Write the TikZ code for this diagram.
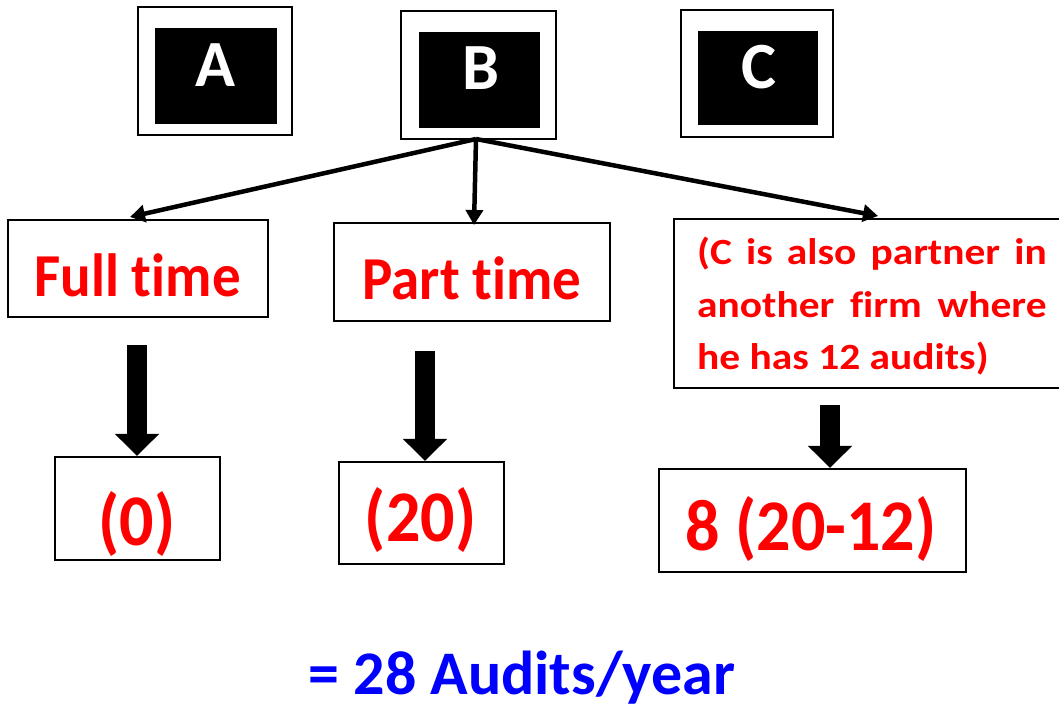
\documentclass[tikz,border=0pt]{standalone}
\usepackage{graphicx}
\usepackage{fontspec}
\setmainfont{Carlito}[Ligatures=NoCommon]
\usetikzlibrary{arrows.meta}
\definecolor{tred}{RGB}{255,0,0}
\definecolor{tblue}{RGB}{0,0,255}
\newcommand{\fsz}[1]{\fontsize{#1}{#1}\selectfont\bfseries}
\newcommand{\tall}[1]{\scalebox{1}[1.07]{#1}}
\tikzset{
  outerbox/.style={draw=black, line width=2.5pt, fill=white, inner sep=0pt},
  innerbox/.style={fill=black, inner sep=0pt},
  letter/.style={inner sep=0pt, anchor=base, text=white, font=\fsz{66}},
  redbox/.style={draw=black, line width=2.2pt, fill=white, inner sep=0pt},
  redtext/.style={inner sep=0pt, anchor=base, text=tred},
  thin arrow/.style={line width=4.5pt, -{Triangle[width=17pt,length=15pt]}},
  thick arrow/.style={line width=20pt, -{Triangle[width=43pt,length=22pt]}},
}
\begin{document}
\begin{tikzpicture}[x=1pt,y=-1pt]
\useasboundingbox (0,0) rectangle (1059,708);
% top boxes
\node[outerbox, minimum width=154pt, minimum height=128pt] (Ao) at (215,71) {};
\node[innerbox, minimum width=122pt, minimum height=96pt] (Ai) at (216,76) {};
\node[letter] (A) at (215.5,87) {A};
\node[outerbox, minimum width=155pt, minimum height=128pt] (Bo) at (478.5,75) {};
\node[innerbox, minimum width=121pt, minimum height=96pt] (Bi) at (479.5,80) {};
\node[letter] (B) at (480.5,90) {B};
\node[outerbox, minimum width=152pt, minimum height=127pt] (Co) at (757,73.5) {};
\node[innerbox, minimum width=120pt, minimum height=94pt] (Ci) at (758,78) {};
\node[letter] (C) at (758.5,88.5) {C};
% middle boxes
\node[redbox, minimum width=260pt, minimum height=97pt] (ft) at (138,268.5) {};
\node[redtext, font=\fsz{57}] (ftt) at (137.5,297) {\tall{Full time}};
\node[redbox, minimum width=276pt, minimum height=98pt] (pt) at (472,272) {};
\node[redtext, font=\fsz{57}] (ptt) at (472,300) {\tall{Part time}};
\node[redbox, minimum width=391pt, minimum height=169pt] (cb) at (869.5,303.5) {};
\node[inner sep=0pt, text=tred, anchor=base west] (ct) at (697,265)
  {\scalebox{1.12}[1]{\parbox[t]{312pt}{\fontsize{37}{52.5}\selectfont\bfseries
   \makebox[312pt][s]{(C is also partner in}\\
   \makebox[312pt][s]{another firm where}\\
   he has 12 audits)}}};
% bottom boxes
\node[redbox, minimum width=165pt, minimum height=103pt] (zero) at (137.5,508.5) {};
\node[redtext, font=\fsz{68}] (zerot) at (137,545) {\tall{(0)}};
\node[redbox, minimum width=165pt, minimum height=102pt] (twenty) at (421.5,513) {};
\node[redtext, font=\fsz{68}] (twentyt) at (420.5,541) {\tall{(20)}};
\node[redbox, minimum width=307pt, minimum height=103pt] (eight) at (812.5,520.5) {};
\node[redtext, font=\fsz{68}] (eightt) at (811,550) {\tall{8 (20-12)}};
% arrows from B
\coordinate (bs) at (476,139);
\coordinate (e1) at (130,217);
\coordinate (e2) at (474,225);
\coordinate (e3) at (878,216);
\draw[thin arrow] (bs) -- (e1);
\draw[thin arrow] (bs) -- (e2);
\draw[thin arrow] (bs) -- (e3);
% thick arrows
\coordinate (s1) at (137,345);
\coordinate (s2) at (425,351);
\coordinate (s3) at (830,405);
\draw[thick arrow] (s1) -- (s1 |- zero.north);
\draw[thick arrow] (s2) -- (s2 |- twenty.north);
\draw[thick arrow] (s3) -- (s3 |- eight.north);
% total
\node[text=tblue, font=\fsz{62}, inner sep=0pt, anchor=base] (total) at (522,694) {= 28 Audits/year};
\end{tikzpicture}
\end{document}
